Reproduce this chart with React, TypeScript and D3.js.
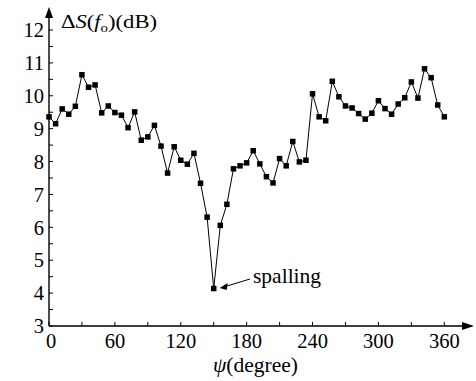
import React from "react";
import * as d3 from "d3";

const angles: number[] = d3.range(0, 361, 6);
const values: number[] = [
  9.36, 9.15, 9.6, 9.44, 9.68, 10.64, 10.26, 10.33, 9.48, 9.69,
  9.49, 9.41, 9.03, 9.51, 8.65, 8.75, 9.1, 8.47, 7.65, 8.45,
  8.04, 7.92, 8.25, 7.34, 6.31, 4.14, 6.06, 6.7, 7.78, 7.87,
  7.96, 8.33, 7.93, 7.54, 7.35, 8.09, 7.87, 8.61, 7.99, 8.04,
  10.06, 9.36, 9.24, 10.44, 9.97, 9.69, 9.63, 9.46, 9.29, 9.47,
  9.85, 9.61, 9.44, 9.75, 9.94, 10.42, 9.93, 10.82, 10.55, 9.72,
  9.36,
];
const xTicks = [0, 60, 120, 180, 240, 300, 360];
const xMinor = d3.range(0, 361, 30);
const yTicks = [3, 4, 5, 6, 7, 8, 9, 10, 11, 12];
const yMinor = d3.range(3, 12.01, 0.5);
const annotation = { label: "spalling", angle: 150, value: 4.14 };

export default function App() {
  const W = 476, H = 381;
  const x = d3.scaleLinear().domain([0, 360]).range([49, 444.3]);
  const y = d3.scaleLinear().domain([3, 12]).range([326, 30]);
  const pts = angles.map((a, i) => [a, values[i]] as [number, number]);
  const line = d3.line<[number, number]>().x(d => x(d[0])).y(d => y(d[1]));
  const font = "'Liberation Serif', 'Times New Roman', serif";
  const x0 = x(0), y0 = y(3);
  const ms = 5.5;
  const ax = x(annotation.angle), ay = y(annotation.value);
  return (
    <svg width={W} height={H} style={{ position: "absolute", left: 0, top: 0, background: "#fff" }}
      fontFamily={font}>
      <rect width={W} height={H} fill="#fff" />
      {/* axes */}
      <line x1={x0} y1={y0} x2={x0} y2={16} stroke="#000" strokeWidth={1.4} />
      <path d={`M${x0},7 L${x0 - 4},18 L${x0 + 4},18 Z`} fill="#000" />
      <line x1={x0} y1={y0} x2={465} y2={y0} stroke="#000" strokeWidth={1.4} />
      <path d={`M474,${y0} L462,${y0 - 4} L462,${y0 + 4} Z`} fill="#000" />
      {yMinor.map(v => (
        <line key={"ym" + v} x1={x0} x2={x0 + 4} y1={y(v)} y2={y(v)} stroke="#000" strokeWidth={1} />
      ))}
      {xMinor.map(v => (
        <line key={"xm" + v} x1={x(v)} x2={x(v)} y1={y0} y2={y0 - 4} stroke="#000" strokeWidth={1} />
      ))}
      {yTicks.map(v => (
        <text key={"yt" + v} x={44} y={y(v)} dy="0.35em" textAnchor="end" fontSize={20.5}>{v}</text>
      ))}
      {xTicks.map(v => (
        <text key={"xt" + v} x={x(v) + (v === 0 ? 2 : 0)} y={347.5} textAnchor="middle" fontSize={20.5}>{v}</text>
      ))}
      {/* axis titles */}
      <text x={61} y={28} fontSize={19} textLength={96} lengthAdjust="spacingAndGlyphs">
        Δ<tspan fontStyle="italic">S</tspan>(<tspan fontStyle="italic">f</tspan><tspan fontSize={12.5} dy={4}>o</tspan><tspan dy={-4}>)(dB)</tspan>
      </text>
      <text x={213} y={372} fontSize={21.5}>
        <tspan fontStyle="italic">ψ</tspan>(degree)
      </text>
      {/* data */}
      <path d={line(pts) || ""} fill="none" stroke="#000" strokeWidth={1} />
      {pts.map((p, i) => (
        <rect key={i} x={x(p[0]) - ms / 2} y={y(p[1]) - ms / 2} width={ms} height={ms} fill="#000" />
      ))}
      {/* annotation */}
      <line x1={250} y1={279} x2={ax + 10} y2={ay - 1.5} stroke="#000" strokeWidth={1} />
      <path d={`M${ax + 6},${ay - 0.5} L${ax + 14},${ay - 5.5} L${ax + 13},${ay + 1.5} Z`} fill="#000" />
      <text x={253} y={283} fontSize={21.5}>{annotation.label}</text>
    </svg>
  );
}
